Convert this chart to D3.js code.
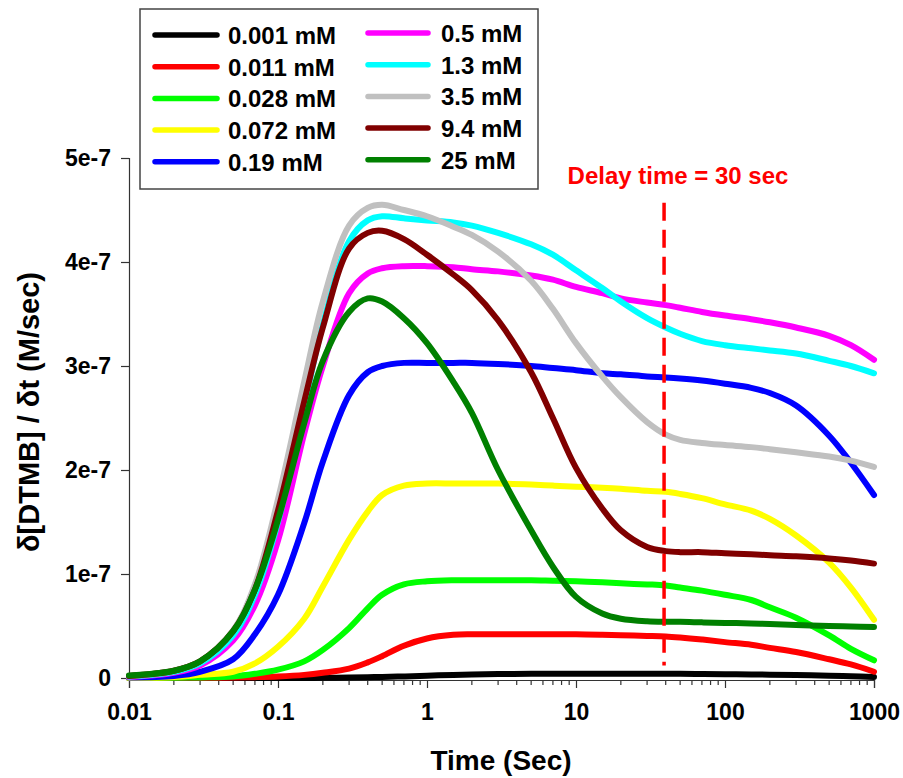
<!DOCTYPE html>
<html><head><meta charset="utf-8">
<script src="https://cdn.jsdelivr.net/npm/d3@7/dist/d3.min.js"></script>
<style>
body{margin:0;background:#fff;}
text{font-family:"Liberation Sans",Arial,Helvetica,sans-serif;font-weight:bold;}
</style>
</head><body>
<svg id="chart" width="903" height="778"></svg>
<script>
// ---- data (rates in units of 1e-7 M/sec) ----
const times = [0.01,0.02,0.03,0.05,0.07,0.1,0.15,0.2,0.3,0.4,0.5,0.7,1,1.5,2,3,5,7,10,15,20,30,40,50,70,100,150,200,300,500,700,1000];
const seriesNames = ["0.001 mM","0.011 mM","0.028 mM","0.072 mM","0.19 mM","0.5 mM","1.3 mM","3.5 mM","9.4 mM","25 mM"];
const seriesColors = ["#000000","#ff0000","#00ff00","#ffff00","#0000ff","#ff00ff","#00ffff","#c0c0c0","#800000","#008000"];
const c0001 = [0,0,0,0,0,0,0,0.002,0.005,0.008,0.01,0.015,0.022,0.03,0.034,0.038,0.04,0.04,0.04,0.04,0.04,0.04,0.04,0.04,0.038,0.036,0.034,0.032,0.028,0.022,0.017,0.01];
const c0011 = [0,0.001,0.002,0.004,0.008,0.015,0.03,0.05,0.09,0.15,0.21,0.31,0.38,0.415,0.42,0.42,0.42,0.42,0.42,0.415,0.41,0.405,0.40,0.39,0.37,0.345,0.32,0.29,0.25,0.18,0.13,0.06];
const c0028 = [0,0.003,0.006,0.015,0.04,0.08,0.16,0.27,0.48,0.67,0.80,0.90,0.93,0.94,0.94,0.94,0.94,0.935,0.93,0.92,0.91,0.90,0.89,0.87,0.84,0.80,0.75,0.68,0.58,0.41,0.28,0.17];
const c0072 = [0,0.01,0.03,0.06,0.14,0.30,0.57,0.88,1.33,1.60,1.76,1.85,1.87,1.87,1.87,1.87,1.86,1.85,1.84,1.83,1.82,1.80,1.79,1.77,1.73,1.67,1.61,1.53,1.37,1.11,0.87,0.56];
const c019 = [0.005,0.02,0.06,0.18,0.42,0.80,1.49,2.08,2.72,2.94,3.00,3.03,3.03,3.03,3.03,3.02,3.00,2.98,2.96,2.93,2.92,2.90,2.89,2.88,2.86,2.83,2.79,2.74,2.62,2.33,2.07,1.76];
const c05 = [0.01,0.05,0.12,0.36,0.70,1.32,2.35,3.00,3.70,3.89,3.94,3.96,3.96,3.95,3.93,3.91,3.87,3.83,3.76,3.70,3.65,3.61,3.585,3.56,3.52,3.485,3.45,3.42,3.37,3.29,3.20,3.06];
const c13 = [0.015,0.06,0.14,0.41,0.80,1.50,2.62,3.40,4.20,4.40,4.44,4.42,4.40,4.38,4.35,4.28,4.17,4.07,3.92,3.75,3.62,3.46,3.37,3.31,3.24,3.20,3.17,3.15,3.12,3.05,3.00,2.93];
const c35 = [0.02,0.07,0.16,0.46,0.90,1.72,2.85,3.62,4.35,4.52,4.55,4.50,4.44,4.34,4.26,4.10,3.82,3.55,3.22,2.90,2.70,2.46,2.34,2.29,2.26,2.24,2.22,2.20,2.17,2.13,2.09,2.03];
const c94 = [0.02,0.07,0.16,0.45,0.85,1.61,2.66,3.37,4.13,4.28,4.30,4.22,4.07,3.88,3.73,3.44,2.94,2.50,2.02,1.63,1.42,1.26,1.22,1.21,1.21,1.20,1.19,1.18,1.17,1.15,1.13,1.10];
const c25 = [0.025,0.07,0.16,0.45,0.85,1.52,2.45,3.05,3.52,3.65,3.62,3.46,3.22,2.85,2.55,2.00,1.42,1.07,0.78,0.62,0.57,0.545,0.54,0.54,0.535,0.53,0.525,0.52,0.51,0.50,0.495,0.49];
const seriesValues = [c0001,c0011,c0028,c0072,c019,c05,c13,c35,c94,c25];
const xTickValues = [0.01,0.1,1,10,100,1000];
const xTickLabels = ["0.01","0.1","1","10","100","1000"];
const yTickValues = [0,1,2,3,4,5];
const yTickLabels = ["0","1e-7","2e-7","3e-7","4e-7","5e-7"];
const delayTime = 39;           // position of the dashed marker
const delayRange = [0.12, 4.57];
const delayLabel = "Delay time = 30 sec";
const xTitle = "Time (Sec)";
const yTitle = "\u03b4[DTMB] / \u03b4t (M/sec)";

// ---- drawing ----
const svg = d3.select("#chart");
const x = d3.scaleLog().domain([0.01,1000]).range([129,874]);
const y = d3.scaleLinear().domain([0,5]).range([678,158]);

// y axis
const yAxis = d3.axisLeft(y).tickValues(yTickValues).tickSize(8).tickPadding(10)
  .tickFormat((d,i)=>yTickLabels[i]);
const gy = svg.append("g").attr("transform","translate(129,0)").call(yAxis);
gy.select(".domain").attr("stroke","#333").attr("stroke-width",1.2);
gy.selectAll(".tick line").attr("stroke","#333").attr("stroke-width",1.2);
gy.selectAll(".tick text").attr("font-size",23).attr("fill","#000")
  .style("font-family","'Liberation Sans',Arial,sans-serif").style("font-weight","bold");

// x axis (major + minor)
const minor = [];
for (let e=-2;e<3;e++) for (let k=2;k<10;k++) minor.push(k*Math.pow(10,e));
const gxm = svg.append("g").attr("transform","translate(0,680)");
gxm.selectAll("line").data(minor).join("line")
  .attr("x1",d=>x(d)).attr("x2",d=>x(d)).attr("y1",0).attr("y2",5)
  .attr("stroke","#333").attr("stroke-width",1.2);
const xAxis = d3.axisBottom(x).tickValues(xTickValues).tickSize(8).tickPadding(16)
  .tickFormat((d,i)=>xTickLabels[i]);
const gx = svg.append("g").attr("transform","translate(0,680)").call(xAxis);
gx.select(".domain").attr("stroke","#333").attr("stroke-width",1.2);
gx.selectAll(".tick line").attr("stroke","#333").attr("stroke-width",1.2);
gx.selectAll(".tick text").attr("font-size",23).attr("fill","#000")
  .style("font-family","'Liberation Sans',Arial,sans-serif").style("font-weight","bold");

// curves
const line = d3.line().x(d=>x(d[0])).y(d=>y(d[1])).curve(d3.curveCatmullRom.alpha(0.5));
seriesValues.forEach((vals,i)=>{
  svg.append("path")
    .attr("d", line(times.map((t,j)=>[t, vals[j]])))
    .attr("fill","none").attr("stroke",seriesColors[i])
    .attr("stroke-width",6).attr("stroke-linecap","round").attr("stroke-linejoin","round");
});

// delay marker
svg.append("line")
  .attr("x1",x(delayTime)).attr("x2",x(delayTime))
  .attr("y1",y(delayRange[1])).attr("y2",y(delayRange[0]))
  .attr("stroke","#ff0000").attr("stroke-width",3.5).attr("stroke-dasharray","18,9");
svg.append("text").attr("x",678).attr("y",184).attr("text-anchor","middle")
  .attr("font-size",24).attr("fill","#ff0000").text(delayLabel);

// axis titles
svg.append("text").attr("x",501).attr("y",770).attr("text-anchor","middle")
  .attr("font-size",28).attr("fill","#000").text(xTitle);
svg.append("text").attr("transform","translate(39,412) rotate(-90)").attr("text-anchor","middle")
  .attr("font-size",29).attr("fill","#000").text(yTitle);

// legend
svg.append("rect").attr("x",140).attr("y",9).attr("width",398).attr("height",180)
  .attr("fill","#fff").attr("stroke","#444").attr("stroke-width",1.5);
seriesNames.forEach((name,i)=>{
  const col = i<5 ? 0 : 1, row = i%5;
  const cy = (col===0 ? 35 : 33) + row*31.7;
  const lx = col===0 ? 155 : 368, lw = col===0 ? 62 : 60, tx = col===0 ? 228 : 441;
  svg.append("line").attr("x1",lx).attr("x2",lx+lw).attr("y1",cy).attr("y2",cy)
    .attr("stroke",seriesColors[i]).attr("stroke-width",5.5).attr("stroke-linecap","round");
  svg.append("text").attr("x",tx).attr("y",cy+9).attr("font-size",24).attr("fill","#000").text(name);
});
</script>
</body></html>
